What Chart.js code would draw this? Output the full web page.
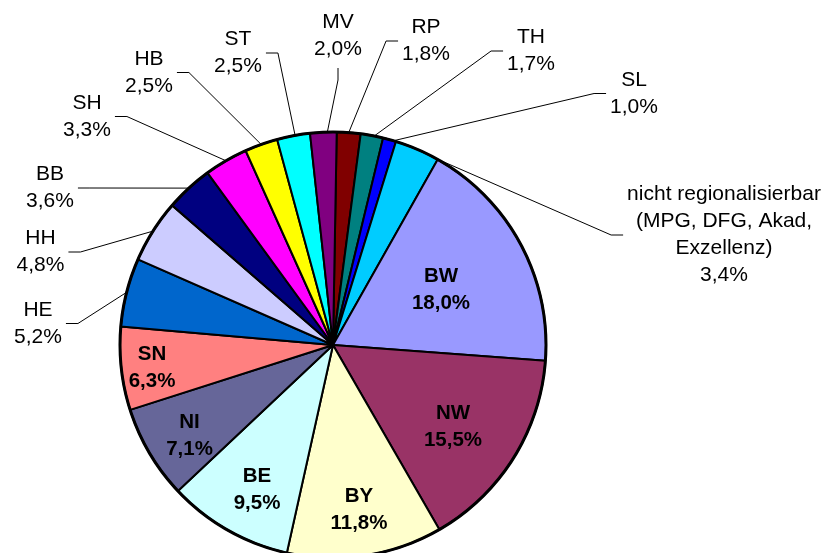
<!DOCTYPE html>
<html>
<head>
<meta charset="utf-8">
<title>Anteile nach Ländern</title>
<script src="https://cdn.jsdelivr.net/npm/chart.js@4.4.0/dist/chart.umd.min.js"></script>
<style>
    html, body { margin: 0; padding: 0; background: #fff; }
    #wrap { width: 831px; height: 553px; position: relative; }
</style>
</head>
<body>
<div id="wrap"><canvas id="pieChart"></canvas></div>
<script>
// data, clockwise from 12 o'clock
const categories = ['RP', 'TH', 'SL', 'nicht regionalisierbar\n(MPG, DFG, Akad,\nExzellenz)',
    'BW', 'NW', 'BY', 'BE', 'NI', 'SN', 'HE', 'HH', 'BB', 'SH', 'HB', 'ST', 'MV'];
const shares = [1.8, 1.7, 1.0, 3.4, 18.0, 15.5, 11.8, 9.5, 7.1, 6.3, 5.2, 4.8, 3.6, 3.3, 2.5, 2.5, 2.0];
const sliceColors = ['#800000', '#008080', '#0000FF', '#00CCFF', '#9999FF', '#993366', '#FFFFCC', '#CCFFFF',
    '#666699', '#FF8080', '#0066CC', '#CCCCFF', '#000080', '#FF00FF', '#FFFF00', '#00FFFF', '#800080'];

// label block centres, relative to the pie centre
const labelOffsets = [
    [93, -304], [198, -294], [301, -251.5], [391, -110],
    [108, -55.5], [120, 82], [26, 165], [-76, 144.5], [-143.5, 90.5], [-181, 22.5],
    [-295, -21.5], [-292.5, -93], [-283, -157], [-246, -228.5], [-184, -272.5], [-95, -292], [5, -309.5]
];
// where a leader line meets its slice (0 = slice start, 1 = slice end)
const leaderAnchor = [0.5, 0.6, 0.8, 0.95, 0.5, 0.5, 0.5, 0.5, 0.5, 0.5, 0.5, 0.5, 0.5, 0.5, 0.5, 0.55, 0.65];

const INSIDE_MIN = 6; // slices this big get their label inside
const LINE_H = 27;

function fmt(v) {
    return v.toFixed(1).replace('.', ',') + '%';
}

const pieLabels = {
    id: 'pieLabels',
    afterDatasetsDraw(chart) {
        const ctx = chart.ctx;
        const arcs = chart.getDatasetMeta(0).data;
        ctx.save();

        // heavier outline round the pie
        const c = arcs[0].getProps(['x', 'y', 'outerRadius']);
        ctx.beginPath();
        ctx.arc(c.x, c.y, c.outerRadius, 0, Math.PI * 2);
        ctx.lineWidth = 3;
        ctx.strokeStyle = '#000';
        ctx.stroke();

        ctx.textAlign = 'center';
        ctx.textBaseline = 'middle';
        ctx.fillStyle = '#000';

        arcs.forEach((arc, i) => {
            const p = arc.getProps(['x', 'y', 'startAngle', 'endAngle', 'outerRadius']);
            const inside = shares[i] >= INSIDE_MIN;
            const lines = categories[i].split('\n').concat([fmt(shares[i])]);
            const cx = p.x + labelOffsets[i][0];
            const cy = p.y + labelOffsets[i][1];
            ctx.font = inside ? 'bold 20.5px "Liberation Sans", Arial, sans-serif'
                              : '21px "Liberation Sans", Arial, sans-serif';
            lines.forEach((t, k) => {
                ctx.fillText(t, cx, cy + (k - (lines.length - 1) / 2) * LINE_H);
            });
            if (inside) return;

            // leader line: short stub, then to the slice edge
            const w = Math.max(...lines.map(t => ctx.measureText(t).width));
            const a = p.startAngle + (p.endAngle - p.startAngle) * leaderAnchor[i];
            const ex = p.x + p.outerRadius * Math.cos(a);
            const ey = p.y + p.outerRadius * Math.sin(a);
            let sx, sy, tx, ty;
            if (Math.abs(labelOffsets[i][0]) < 30) {
                sx = cx; sy = cy + (lines.length - 1) / 2 * LINE_H + 19;
                tx = sx; ty = sy + 12;
            } else if (labelOffsets[i][0] > 0) {
                sx = cx - w / 2 - 4; sy = cy;
                tx = sx - 12; ty = sy;
            } else {
                sx = cx + w / 2 + 4; sy = cy;
                tx = sx + 12; ty = sy;
            }
            ctx.beginPath();
            ctx.moveTo(sx, sy);
            ctx.lineTo(tx, ty);
            ctx.lineTo(ex, ey);
            ctx.lineWidth = 1;
            ctx.strokeStyle = '#000';
            ctx.stroke();
        });
        ctx.restore();
    }
};

const ctx = document.getElementById('pieChart').getContext('2d');
new Chart(ctx, {
    type: 'pie',
    data: {
        labels: categories,
        datasets: [{
            data: shares,
            backgroundColor: sliceColors,
            borderColor: '#000',
            borderWidth: 2
        }]
    },
    options: {
        responsive: true,
        maintainAspectRatio: false,
        animation: false,
        rotation: 1,
        radius: 213,
        layout: {
            padding: { left: 0, right: 165, top: 137, bottom: 0 }
        },
        plugins: {
            legend: { display: false },
            tooltip: { enabled: false }
        }
    },
    plugins: [pieLabels]
});
</script>
</body>
</html>
